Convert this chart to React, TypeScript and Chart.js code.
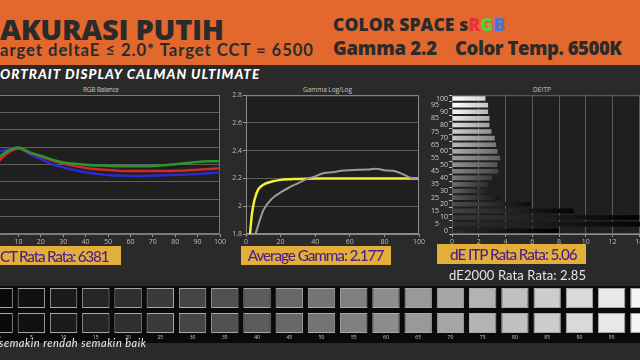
import React, { useEffect, useRef } from 'react';
import { Chart, registerables } from 'chart.js';

Chart.register(...registerables);

// ---------------- data ----------------
const balanceLevels = [0, 5, 10, 15, 20, 25, 30, 35, 40, 45, 50, 55, 60, 65, 70, 75, 80, 85, 90, 95, 100];
const redBalance = [100.2, 103.2, 104.6, 103.4, 102.3, 101.2, 100.3, 99.6, 99.0, 98.6, 98.4, 98.2, 98.1, 98.1, 98.1, 98.1, 98.2, 98.3, 98.5, 98.7, 98.9];
const greenBalance = [101.5, 103.8, 104.9, 103.5, 102.5, 101.4, 100.6, 100.2, 99.9, 99.7, 99.6, 99.5, 99.5, 99.5, 99.6, 99.8, 100.1, 100.4, 100.7, 100.9, 101.0];
const blueBalance = [103.5, 104.3, 104.8, 103.0, 101.6, 100.1, 99.2, 98.4, 97.8, 97.3, 97.0, 96.8, 96.7, 96.7, 96.8, 96.9, 97.0, 97.1, 97.3, 97.5, 97.7];

const gammaTargetLevels = [2.3, 3.5, 5, 7, 10, 15, 20, 30, 40, 60, 80, 100];
const gammaTarget = [1.8, 1.95, 2.05, 2.12, 2.155, 2.178, 2.19, 2.197, 2.2, 2.2, 2.2, 2.2];
const gammaMeasuredLevels = [5.5, 10, 15, 20, 25, 30, 35, 40, 45, 50, 55, 60, 65, 70, 75, 80, 85, 90, 95, 100];
const gammaMeasured = [1.8, 1.97, 2.055, 2.1, 2.135, 2.165, 2.195, 2.215, 2.24, 2.245, 2.255, 2.26, 2.263, 2.265, 2.27, 2.26, 2.255, 2.235, 2.205, 2.2];

const deLevels = ['100', '95', '90', '85', '80', '75', '70', '65', '60', '55', '50', '45', '40', '35', '30', '25', '20', '15', '10', '5', '0'];
const deItp = [2.5, 2.7, 2.7, 2.8, 2.8, 2.95, 3.2, 3.3, 3.4, 3.6, 3.4, 3.45, 3.0, 2.7, 2.6, 3.55, 5.9, 9.1, 14.0, 15.5, 8.0];

const swatchLevels = [0, 5, 10, 15, 20, 25, 30, 35, 40, 45, 50, 55, 60, 65, 70, 75, 80, 85, 90, 95, 100];

// ---------------- helpers ----------------
const TICK_FONT = { family: 'Open Sans', size: 7 };
const TICK_COLOR = '#bdbdbd';

const grayValue = (level: number) => Math.round(10 + 235 * Math.pow(level / 100, 1.15));
const rgb = (v: number) => `rgb(${v},${v},${v})`;

const framePlugin = {
  id: 'frame',
  beforeDraw(chart: any, _a: any, opts: any) {
    const { ctx, chartArea: a } = chart;
    if (!a || !opts.fill) return;
    ctx.save();
    ctx.fillStyle = opts.fill;
    ctx.fillRect(a.left, a.top, a.right - a.left, a.bottom - a.top);
    ctx.restore();
  },
  beforeDatasetsDraw(chart: any, _a: any, opts: any) {
    const { ctx, chartArea: a } = chart;
    if (!a || !opts.stroke) return;
    ctx.save();
    ctx.strokeStyle = opts.stroke;
    ctx.lineWidth = 1;
    ctx.strokeRect(a.left + 0.5, a.top + 0.5, a.right - a.left - 1, a.bottom - a.top - 1);
    ctx.restore();
  },
};

let measureCtx: CanvasRenderingContext2D | null = null;
function spacingFor(text: string, font: string, width: number) {
  if (!measureCtx) measureCtx = document.createElement('canvas').getContext('2d');
  if (!measureCtx) return 0;
  measureCtx.font = font;
  const w = measureCtx.measureText(text).width;
  return (width - w) / Math.max(1, text.length - 1);
}

function Label(props: any) {
  const { text, x, base, size, weight = 400, italic = false, color, width, family = 'Lato', parts, asc = 0.887 } = props;
  const font = `${italic ? 'italic ' : ''}${weight} ${size}px "${family}"`;
  const ls = width ? spacingFor(text, font, width) : 0;
  return (
    <div
      style={{
        position: 'absolute',
        left: x,
        top: base - asc * size,
        fontFamily: `"${family}"`,
        fontSize: size,
        fontWeight: weight,
        fontStyle: italic ? 'italic' : 'normal',
        lineHeight: `${size}px`,
        color,
        letterSpacing: ls,
        whiteSpace: 'pre',
      }}
    >
      {parts ?? text}
    </div>
  );
}

const canvasStyle = (left: number, top: number, w: number, h: number): React.CSSProperties => ({
  position: 'absolute',
  left,
  top,
  width: w,
  height: h,
});

export default function App() {
  const rgbRef = useRef<HTMLCanvasElement>(null);
  const gammaRef = useRef<HTMLCanvasElement>(null);
  const deRef = useRef<HTMLCanvasElement>(null);
  const swRef = useRef<HTMLCanvasElement>(null);

  useEffect(() => {
    const charts: Chart[] = [];

    // RGB Balance
    charts.push(
      new Chart(rgbRef.current!, {
        type: 'line',
        data: {
          datasets: [
            { label: 'Green', data: balanceLevels.map((x, i) => ({ x, y: greenBalance[i] })), borderColor: '#2a962e', borderWidth: 2.5 },
            { label: 'Red', data: balanceLevels.map((x, i) => ({ x, y: redBalance[i] })), borderColor: '#d2282a', borderWidth: 2.5 },
            { label: 'Blue', data: balanceLevels.map((x, i) => ({ x, y: blueBalance[i] })), borderColor: '#2b2bd2', borderWidth: 2.5 },
          ].map((d) => ({ ...d, pointRadius: 0, cubicInterpolationMode: 'monotone' as const, fill: false })),
        },
        options: {
          responsive: false,
          animation: false,
          layout: { padding: { top: 5, right: 8, left: 0, bottom: 0 }, autoPadding: false },
          plugins: { legend: { display: false }, tooltip: { enabled: false }, frame: { fill: '#1f1f1f', stroke: '#7a7a7a' } } as any,
          scales: {
            x: {
              type: 'linear',
              min: 0,
              max: 100,
              ticks: { stepSize: 10, color: TICK_COLOR, font: TICK_FONT, padding: 1 },
              grid: { drawOnChartArea: false, tickLength: 3, tickColor: '#9a9a9a' },
              border: { color: '#7a7a7a' },
              afterFit: (s: any) => { s.height = 14; },
            },
            y: {
              min: 80,
              max: 120,
              ticks: { stepSize: 5, display: false },
              grid: { color: '#606060', tickLength: 0 },
              border: { display: false },
              afterFit: (s: any) => { s.width = 0; },
            },
          },
        },
        plugins: [framePlugin],
      })
    );

    // Gamma Log/Log
    charts.push(
      new Chart(gammaRef.current!, {
        type: 'line',
        data: {
          datasets: [
            { label: 'Measured', data: gammaMeasuredLevels.map((x, i) => ({ x, y: gammaMeasured[i] })), borderColor: '#9a9a9a', borderWidth: 2 },
            { label: 'Target', data: gammaTargetLevels.map((x, i) => ({ x, y: gammaTarget[i] })), borderColor: '#f4f032', borderWidth: 2.5 },
          ].map((d) => ({ ...d, pointRadius: 0, cubicInterpolationMode: 'monotone' as const, fill: false })),
        },
        options: {
          responsive: false,
          animation: false,
          layout: { padding: { top: 5, right: 8, left: 0, bottom: 0 }, autoPadding: false },
          plugins: { legend: { display: false }, tooltip: { enabled: false }, frame: { fill: '#1f1f1f', stroke: '#8a8a8a' } } as any,
          scales: {
            x: {
              type: 'linear',
              min: 0,
              max: 100,
              ticks: { stepSize: 20, color: TICK_COLOR, font: TICK_FONT, padding: 1 },
              grid: { drawOnChartArea: false, tickLength: 3, tickColor: '#9a9a9a' },
              border: { color: '#8a8a8a' },
              afterFit: (s: any) => { s.height = 14; },
            },
            y: {
              min: 1.8,
              max: 2.8,
              ticks: {
                stepSize: 0.2,
                color: TICK_COLOR,
                font: TICK_FONT,
                padding: 1,
                callback: (v: any) => String(Math.round(Number(v) * 10) / 10),
              },
              grid: { color: '#5c5c5c', tickLength: 3, tickColor: '#9a9a9a' },
              border: { color: '#8a8a8a' },
              afterFit: (s: any) => { s.width = 21; },
            },
          },
        },
        plugins: [framePlugin],
      })
    );

    // DEITP
    charts.push(
      new Chart(deRef.current!, {
        type: 'bar',
        data: {
          labels: deLevels,
          datasets: [
            {
              label: 'DEITP',
              data: deItp,
              barPercentage: 0.7,
              categoryPercentage: 1,
              backgroundColor: (c: any) => {
                const v = grayValue(Number(deLevels[c.dataIndex] ?? 0));
                const chart = c.chart;
                const xs = chart.scales?.x;
                if (!xs || c.raw == null) return rgb(v);
                const x0 = xs.getPixelForValue(0);
                const x1 = xs.getPixelForValue(Number(c.raw));
                if (!isFinite(x0) || !isFinite(x1) || x1 <= x0 + 1) return rgb(v);
                const g = chart.ctx.createLinearGradient(x0, 0, x1, 0);
                g.addColorStop(0, rgb(Math.min(255, v + 30)));
                g.addColorStop(1, rgb(Math.max(0, v - 35)));
                return g;
              },
            },
          ],
        },
        options: {
          indexAxis: 'y',
          responsive: false,
          animation: false,
          layout: { padding: { top: 5, right: 10, left: 0, bottom: 0 }, autoPadding: false },
          plugins: { legend: { display: false }, tooltip: { enabled: false }, frame: { fill: '#1f1f1f', stroke: '#6a6a6a' } } as any,
          scales: {
            x: {
              type: 'linear',
              min: 0,
              max: 16,
              ticks: { stepSize: 2, color: TICK_COLOR, font: TICK_FONT, padding: 1 },
              grid: { color: '#5c5c5c', tickLength: 3, tickColor: '#9a9a9a' },
              border: { color: '#8a8a8a' },
              afterFit: (s: any) => { s.height = 14; },
            },
            y: {
              ticks: {
                autoSkip: false,
                color: '#cfcfcf',
                font: TICK_FONT,
                padding: 1,
                callback: (_v: any, i: number) => (i % 2 === 1 ? deLevels[i] + '     ' : deLevels[i]),
              },
              grid: { drawOnChartArea: false, tickLength: 3, tickColor: '#bdbdbd' },
              border: { color: '#9a9a9a' },
              afterFit: (s: any) => { s.width = 32; },
            },
          },
        },
        plugins: [framePlugin],
      })
    );

    // Greyscale swatches
    const swatchColors = swatchLevels.map((l) => rgb(grayValue(l)));
    charts.push(
      new Chart(swRef.current!, {
        type: 'bar',
        data: {
          labels: swatchLevels.map(String),
          datasets: [
            { label: 'Target', data: swatchLevels.map(() => [1.25, 2.25]) as any },
            { label: 'Measured', data: swatchLevels.map(() => [0, 1]) as any },
          ].map((d) => ({
            ...d,
            backgroundColor: swatchColors,
            borderColor: '#a8a8a8',
            borderWidth: 1,
            borderSkipped: false,
            barPercentage: 0.85,
            categoryPercentage: 1,
            grouped: false,
          })),
        },
        options: {
          responsive: false,
          animation: false,
          layout: { padding: { top: 2, right: 0, left: 0, bottom: 0 }, autoPadding: false },
          plugins: { legend: { display: false }, tooltip: { enabled: false } },
          scales: {
            x: {
              ticks: { color: '#cfcfcf', font: { family: 'Open Sans', size: 5 }, padding: 2, autoSkip: false, maxRotation: 0 },
              grid: { display: false, drawTicks: false },
              border: { display: false },
              afterFit: (s: any) => { s.height = 9; },
            },
            y: { display: false, min: 0, max: 2.25 },
          },
        },
      })
    );

    return () => charts.forEach((c) => c.destroy());
  }, []);

  const dark = '#2b2b2b';
  const purple = '#4b1f8f';
  const gold = '#e3af3b';
  const titleColor = '#c8c8c8';
  const osAsc = 0.888;

  return (
    <div style={{ position: 'fixed', left: 0, top: 0, width: 640, height: 360, overflow: 'hidden', background: '#2a2a2a' }}>
      {/* orange banner */}
      <div style={{ position: 'absolute', left: 0, top: 0, width: 640, height: 65, background: '#e2682e' }} />
      <Label text="AKURASI PUTIH" x={0} base={40} size={29} weight={800} family="Open Sans" asc={osAsc} color={dark} width={224} />
      <Label text="arget deltaE ≤ 2.0* Target CCT = 6500" x={0} base={57} size={16.6} weight={700} color={dark} width={314} />
      <Label
        text="COLOR SPACE sRGB"
        x={333}
        base={31.5}
        size={17.5}
        weight={800}
        family="Open Sans"
        asc={osAsc}
        color={dark}
        width={172}
        parts={
          <>
            COLOR SPACE s<span style={{ color: '#e8303a' }}>R</span>
            <span style={{ color: '#62c83e' }}>G</span>
            <span style={{ color: '#3a78e0' }}>B</span>
          </>
        }
      />
      <Label text="Gamma 2.2" x={333} base={55} size={18.5} weight={800} family="Open Sans" asc={osAsc} color={dark} width={104} />
      <Label text="Color Temp. 6500K" x={455} base={55} size={18.5} weight={800} family="Open Sans" asc={osAsc} color={dark} width={167} />

      {/* dark band heading */}
      <Label text="ORTRAIT DISPLAY CALMAN ULTIMATE" x={0} base={79.5} size={13.5} weight={900} italic color="#ffffff" width={260} />

      {/* chart titles */}
      <Label text="RGB Balance" x={83} base={92.5} size={6.5} family="Open Sans" asc={osAsc} color={titleColor} width={36} />
      <Label text="Gamma Log/Log" x={303} base={92.5} size={6.5} family="Open Sans" asc={osAsc} color={titleColor} width={49} />
      <Label text="DEITP" x={533} base={92.5} size={6.5} family="Open Sans" asc={osAsc} color={titleColor} width={18} />

      {/* charts */}
      <canvas ref={rgbRef} width={235} height={158} style={canvasStyle(-7, 90, 235, 158)} />
      <canvas ref={gammaRef} width={202} height={158} style={canvasStyle(225, 90, 202, 158)} />
      <canvas ref={deRef} width={256} height={158} style={canvasStyle(420, 90, 256, 158)} />

      {/* badges */}
      <div style={{ position: 'absolute', left: 0, top: 246, width: 121, height: 19, background: gold }} />
      <Label text="CT Rata Rata: 6381" x={0} base={262.3} size={15.3} weight={500} color={purple} width={110} />
      <div style={{ position: 'absolute', left: 241, top: 246, width: 150, height: 19, background: gold }} />
      <Label text="Average Gamma: 2.177" x={247.7} base={262} size={15.3} weight={500} color={purple} width={136.6} />
      <div style={{ position: 'absolute', left: 437, top: 244, width: 149, height: 20, background: gold }} />
      <Label text="dE ITP Rata Rata: 5.06" x={450} base={261} size={15.3} weight={500} color={purple} width={128} />

      <Label text="dE2000 Rata Rata: 2.85" x={449} base={281} size={13} color="#e6e6e6" width={137} />

      {/* swatch strip */}
      <div style={{ position: 'absolute', left: 0, top: 286, width: 640, height: 57, background: '#0a0a0a' }} />
      <canvas ref={swRef} width={677} height={56} style={canvasStyle(-17, 286, 677, 56)} />

      <Label text="semakin rendah semakin baik" x={-1} base={347} size={11} italic color="#f2f2f2" width={147} />
    </div>
  );
}
